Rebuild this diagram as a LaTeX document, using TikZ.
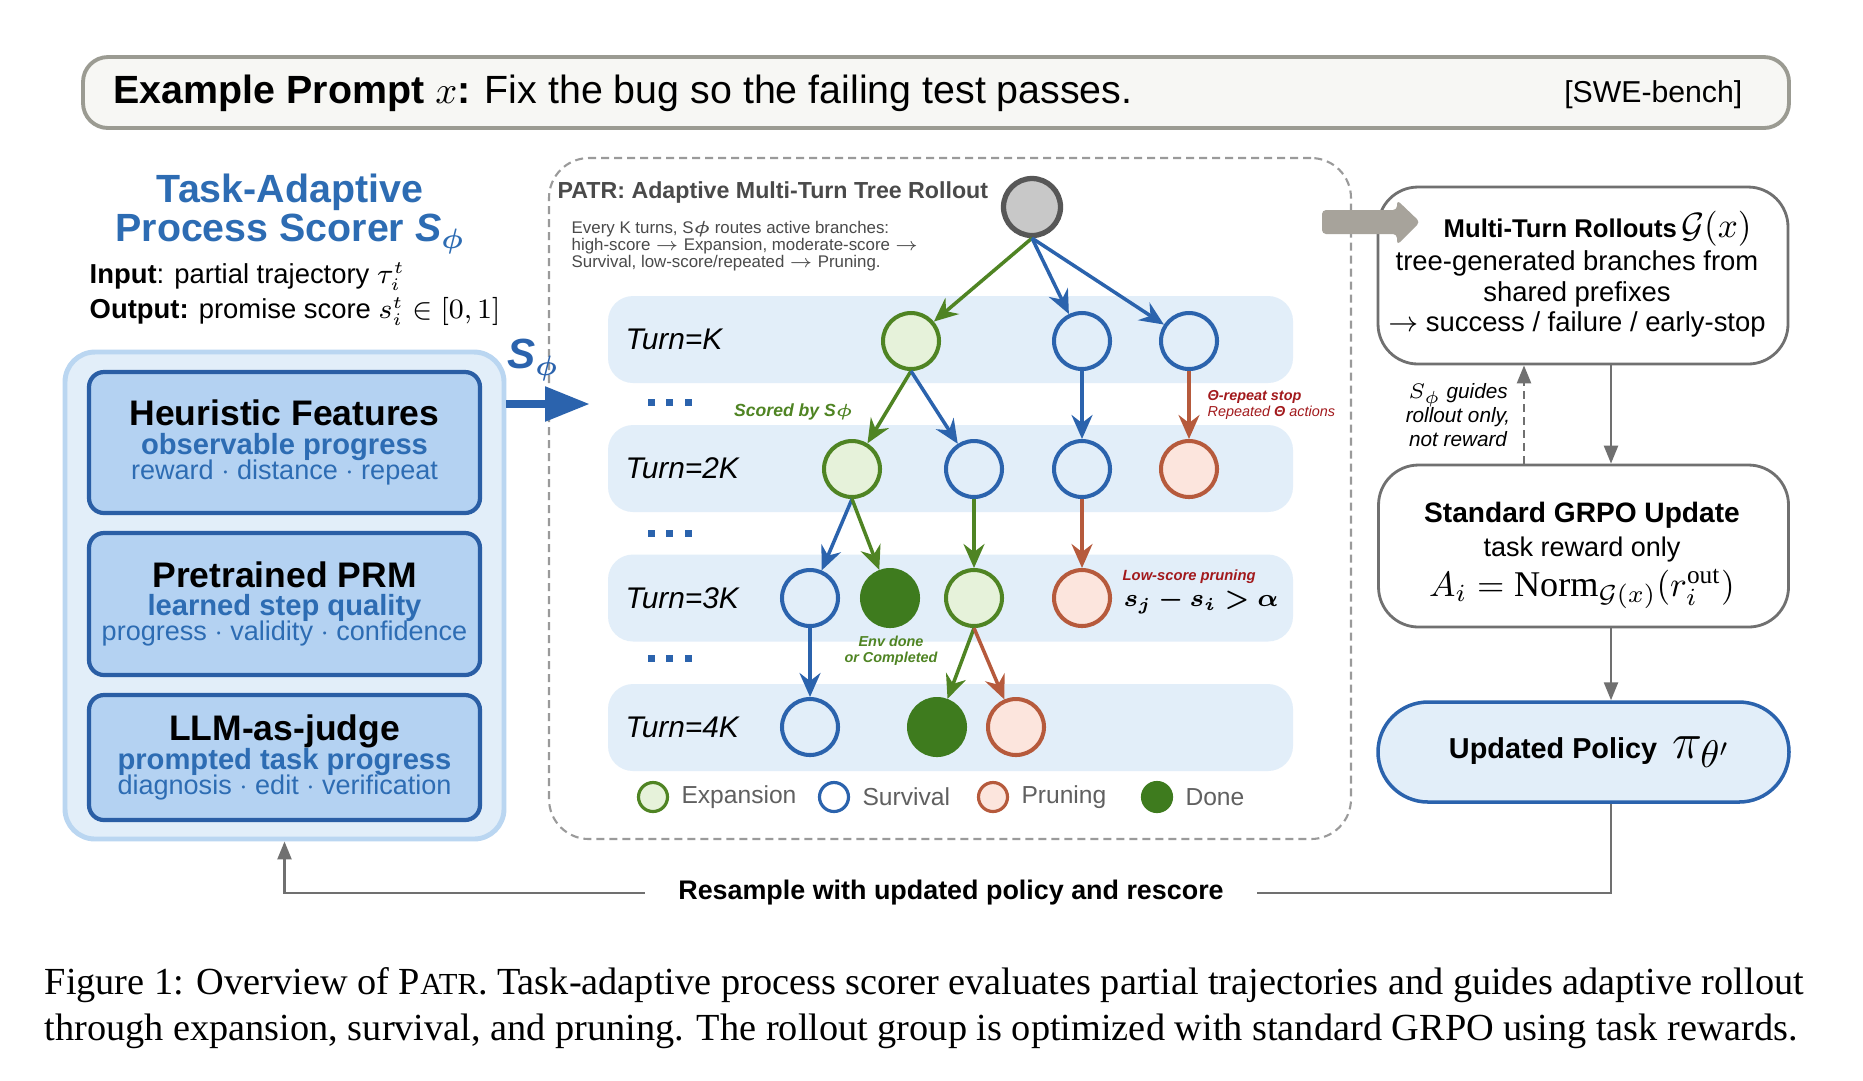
\documentclass[tikz,border=0pt]{standalone}
\usepackage{fontspec}
\setmainfont{Liberation Serif}
\setsansfont{Liberation Sans}
\renewcommand{\familydefault}{\sfdefault}
\usepackage{amsmath,amssymb,bm}
\usepackage{xcolor}
\usetikzlibrary{arrows.meta,positioning}

\definecolor{scblue}{HTML}{2B63AD}
\definecolor{featblue}{HTML}{2A5EA5}
\definecolor{titleblue}{HTML}{2D6CB3}
\definecolor{boxblue}{HTML}{B4D2F2}
\definecolor{paleblue}{HTML}{E2EEF9}
\definecolor{rimblue}{HTML}{BAD6F1}
\definecolor{expgreen}{HTML}{4F8423}
\definecolor{expfill}{HTML}{E6F2DA}
\definecolor{donegreen}{HTML}{3E7B1E}
\definecolor{prured}{HTML}{B65A3C}
\definecolor{prufill}{HTML}{FCE5DD}
\definecolor{labred}{HTML}{A2191C}
\definecolor{rootgrey}{HTML}{C8C8C8}
\definecolor{rootedge}{HTML}{575757}
\definecolor{linegrey}{HTML}{707070}
\definecolor{dashgrey}{HTML}{9A9A9A}
\definecolor{arrowgrey}{HTML}{A7A39B}
\definecolor{titlegrey}{HTML}{4A4A4A}
\definecolor{legendgrey}{HTML}{606060}
\definecolor{promptfill}{HTML}{F7F7F4}
\definecolor{promptedge}{HTML}{9B9B92}

\newcommand{\fsz}[2]{\fontsize{#1}{#2}\selectfont}

\tikzset{
  tnode/.style={circle,inner sep=0pt,minimum size=5.6mm,line width=1.15pt},
  expn/.style={tnode,draw=expgreen,fill=expfill},
  surv/.style={tnode,draw=scblue},
  prun/.style={tnode,draw=prured,fill=prufill},
  done/.style={tnode,draw=donegreen,fill=donegreen},
  edge/.style={line width=1pt,-{Stealth[length=2.4mm,width=2.1mm,inset=0.8mm]}},
  band/.style={fill=paleblue,rounded corners=2.5mm,minimum width=68.5mm,minimum height=8.7mm,inner sep=0pt},
  turnlab/.style={anchor=west,font=\itshape\fsz{8.5}{9}},
  featbox/.style={draw=featblue,fill=boxblue,line width=1.2pt,rounded corners=1.5mm,minimum width=39.1mm,
    align=center,inner sep=0pt,font={\fsz{8}{7.1}\lineskiplimit=-10pt}},
  panel/.style={draw=linegrey,line width=0.8pt,fill=white,rounded corners=4mm,minimum width=41mm},
  flow/.style={draw=linegrey,line width=0.7pt,-{Triangle[length=1.8mm,width=1.4mm]}},
  tinylab/.style={font=\bfseries\itshape\fsz{4.1}{4.6}},
  txt/.style={inner sep=0pt}
}

\begin{document}
\begin{tikzpicture}[x=0.1mm,y=-0.1mm]
    \useasboundingbox (0,0) rectangle (1863,1080);
    \fill[white] (0,0) rectangle (1863,1080);

    % Prompt bar
    \node[draw=promptedge, fill=promptfill, line width=1.1pt, rounded corners=2.5mm,
          minimum width=170.6mm, minimum height=7.1mm] (prompt) at (936,92.5) {};
    \node[txt, anchor=west, font=\fsz{11.2}{13}] (ptext) at (113,93)
        {\textbf{Example Prompt} $x$\textbf{:} Fix the bug so the failing test passes.};
    \node[txt, anchor=east, font=\fsz{8.6}{10}] (bench) at (1743,95) {[SWE-bench]};

    % Process scorer
    \node[txt, text=titleblue, align=center, font=\bfseries\fsz{11.2}{11.1}] (sctitle) at (290,214)
        {Task-Adaptive\\Process Scorer \textit{S}$_{\boldsymbol{\phi}}$};
    \node[txt, anchor=west, font=\fsz{7.8}{9}] (inp) at (89,277) {\textbf{Input}: partial trajectory $\tau_i^t$};
    \node[txt, anchor=west, font=\fsz{7.8}{9}] (outp) at (89,311) {\textbf{Output:} promise score $s_i^t\in[0,1]$};

    \node[draw=rimblue, fill=paleblue, line width=1.4pt, rounded corners=3mm,
          minimum width=43.9mm, minimum height=48.7mm] (scorer) at (284.5,595.5) {};
    \node[featbox, minimum height=14.1mm] (heur) at (284.5,442.5)
        {{\fsz{10.1}{7.1}\bfseries Heuristic Features}\\[1pt]
         {\color{titleblue}\fsz{8.3}{7.1}\bfseries observable progress}\\
         {\color{titleblue}\fsz{7.7}{7.1}reward $\cdot$ distance $\cdot$ repeat}};
    \node[featbox, minimum height=14.2mm] (prm) at (284.5,604)
        {{\fsz{10.1}{7.1}\bfseries Pretrained PRM}\\[1pt]
         {\color{titleblue}\fsz{8.3}{7.1}\bfseries learned step quality}\\
         {\color{titleblue}\fsz{7.7}{7.1}progress $\cdot$ validity $\cdot$ confidence}};
    \node[featbox, minimum height=12.5mm] (judge) at (284.5,757.5)
        {{\fsz{10.1}{7.1}\bfseries LLM-as-judge}\\[1pt]
         {\color{titleblue}\fsz{8.3}{7.1}\bfseries prompted task progress}\\
         {\color{titleblue}\fsz{7.7}{7.1}diagnosis $\cdot$ edit $\cdot$ verification}};

    % Tree rollout panel
    \node[draw=dashgrey, dash pattern=on 0.8mm off 0.5mm, line width=0.6pt, rounded corners=4mm,
          minimum width=80.2mm, minimum height=68.1mm] (patr) at (950,498.5) {};
    \node[txt, anchor=west, text=titlegrey, font=\bfseries\fsz{6.6}{8}] (patrtitle) at (557,192)
        {PATR: Adaptive Multi-Turn Tree Rollout};
    \node[txt, anchor=north west, text=titlegrey, align=left, font=\fsz{4.8}{4.8}] (patrnote) at (571,221)
        {Every K turns, S$\boldsymbol{\phi}$ routes active branches:\\
         high-score $\rightarrow$ Expansion, moderate-score $\rightarrow$\\
         Survival, low-score/repeated $\rightarrow$ Pruning.};

    % S_phi arrow
    \coordinate (stip) at (590,404);
    \draw[scblue, line width=2.4pt, -{Triangle[length=4.5mm,width=3.3mm]}] (scorer.east |- stip) -- (stip);
    \node[text=scblue, font=\bfseries\itshape\fsz{12}{14}] (slab) at (533,360) {S$_{\boldsymbol{\phi}}$};

    % Turn bands
    \foreach \nm/\y/\txt in {bk/339.5/K, b2k/468.5/2K, b3k/598/3K, b4k/727.5/4K}{
        \node[band] (\nm) at (950.5,\y) {};
        \node[turnlab, right=0.6mm of \nm.west] (t\nm) {Turn=\txt};
    }
    \foreach \y in {402,533,658}
        \foreach \x in {651,669,688}
            \fill[scblue] (\x-3.5,\y-3.5) rectangle (\x+3.5,\y+3.5);

    % Tree
    \node[tnode, fill=rootgrey, draw=rootedge, line width=1.5pt, minimum size=5.7mm] (root) at (1032,207) {};
    \foreach \nm/\st/\x/\y in {a1/expn/911/341, a2/surv/1082/341, a3/surv/1189/341,
        b1/expn/852/469, b2/surv/974/469, b3/surv/1082/469, b4/prun/1189/469,
        c1/surv/810/598, c2/done/890/598, c3/expn/974/598, c4/prun/1082/598,
        d1/surv/810/727, d2/done/937/727, d3/prun/1016/727}
        \node[\st] (\nm) at (\x,\y) {};
    \foreach \u/\v/\c in {root/a1/expgreen, root/a2/scblue, root/a3/scblue,
        a1/b1/expgreen, a1/b2/scblue, a2/b3/scblue, a3/b4/prured,
        b1/c1/scblue, b1/c2/expgreen, b2/c3/expgreen, b3/c4/prured,
        c1/d1/scblue, c3/d2/expgreen, c3/d3/prured}
        \draw[edge,\c] (\u.south) -- (\v);

    % Annotations
    \node[txt, anchor=east, text=expgreen, font=\bfseries\itshape\fsz{5}{6}] (scored) at (853,412) {Scored by S$\boldsymbol{\phi}$};
    \node[txt, anchor=west, text=labred, align=left, font=\itshape\fsz{4.1}{4.8}] (repeat) at (1207,405)
        {\textbf{Θ-repeat stop}\\Repeated \textbf{Θ} actions};
    \node[tinylab, text=expgreen, align=center] (envdone) at (891,651) {Env done\\or Completed};
    \node[txt, anchor=west, text=labred, font=\bfseries\itshape\fsz{4.2}{5}] (lowlab) at (1122,577) {Low-score pruning};
    \node[txt, anchor=west, font=\fsz{7.1}{9}] (lowrule) at (1123,602) {$\boldsymbol{s_j - s_i > \alpha}$};

    % Legend
    \foreach \st/\x/\txt in {expn/653/Expansion, surv/834/Survival, prun/993/Pruning, done/1157/Done}{
        \node[\st, minimum size=2.9mm, line width=0.9pt] (leg\txt) at (\x,797) {};
        \node[right=0mm of leg\txt, text=legendgrey, font=\fsz{7}{8}] (lab\txt) {\txt};
    }

    % Right column
    \node[panel, minimum height=17.7mm] (mtr) at (1583,275.5) {};
    \fill[arrowgrey, rounded corners=0.4mm] (1322,210) -- (1397,210) -- (1397,200) -- (1420,222)
        -- (1397,245) -- (1397,234) -- (1322,234) -- cycle;
    \node[txt, anchor=west, font=\bfseries\fsz{7.3}{9}] (mtrtitle) at (1443,229)
        {Multi-Turn Rollouts\,{\fsz{10}{12}$\mathcal{G}(x)$}};
    \node[txt, align=center, font=\fsz{7.8}{8.6}] (mtrtext) at (1577,294)
        {tree-generated branches from\\shared prefixes\\$\rightarrow$ success / failure / early-stop};

    \node[panel, minimum height=16.2mm] (grpo) at (1583.5,546) {};
    \node[txt, font=\bfseries\fsz{8}{9}] (grpotitle) at (1582,515) {Standard GRPO Update};
    \node[txt, font=\fsz{7.7}{9}] (grpotext) at (1582,549) {task reward only};
    \node[txt, font=\fsz{10.3}{12}] (grpoeq) at (1582,589) {$A_i=\mathrm{Norm}_{\mathcal{G}(x)}(r_i^{\mathrm{out}})$};

    \node[draw=scblue, fill=paleblue, line width=1pt, rounded corners=5mm,
          minimum width=41.1mm, minimum height=10mm] (policy) at (1583.5,752) {};
    \node[txt, font=\bfseries\fsz{8.2}{9}] (poltext) at (1590,752) {Updated Policy\hspace{1.5mm}{\fsz{15}{16}$\pi_{\theta'}$}};

    % Connectors
    \coordinate (xr) at (1611,0);
    \coordinate (xl) at (1524,0);
    \draw[flow] (mtr.south -| xr) -- (grpo.north -| xr);
    \draw[flow, dash pattern=on 0.8mm off 0.5mm] (grpo.north -| xl) -- (mtr.south -| xl);
    \node[txt, align=center, font=\itshape\fsz{5.9}{6.8}] (guide) at (1458,415) {$S_\phi$ guides\\rollout only,\\not reward};
    \draw[flow] (grpo.south -| xr) -- (policy.north -| xr);

    \node[fill=white, inner xsep=3.3mm, font=\bfseries\fsz{7.65}{9}] (resample) at (951,893)
        {Resample with updated policy and rescore};
    \draw[linegrey, line width=0.7pt] (policy.south -| xr) |- (resample.east);
    \draw[flow] (resample.west) -| (scorer.south);

    % Caption
    \node[txt, anchor=west, font=\rmfamily\fsz{10.9}{12}] (cap1) at (44,985)
        {Figure 1: Overview of P{\fsz{8.7}{9}ATR}. Task-adaptive process scorer evaluates partial trajectories and guides adaptive rollout};
    \node[txt, anchor=west, font=\rmfamily\fsz{10.9}{12}] (cap2) at (44,1031)
        {through expansion, survival, and pruning. The rollout group is optimized with standard GRPO using task rewards.};
\end{tikzpicture}
\end{document}
